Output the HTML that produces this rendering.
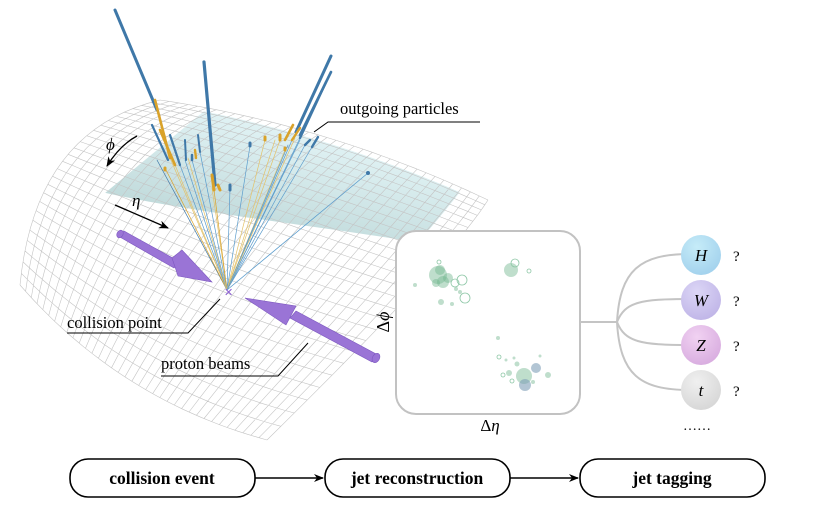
<!DOCTYPE html>
<html><head><meta charset="utf-8">
<style>
html,body{margin:0;padding:0;background:#fff;}
svg{display:block;}
text{font-family:"Liberation Serif",serif;}
</style></head>
<body>
<svg id="s" width="830" height="526" viewBox="0 0 830 526" xmlns="http://www.w3.org/2000/svg">
<defs>
<linearGradient id="tg" x1="0" y1="1" x2="0.6" y2="0">
<stop offset="0" stop-color="#8fb9b9" stop-opacity="0.7"/>
<stop offset="1" stop-color="#d2f0f4" stop-opacity="0.55"/>
</linearGradient>
<radialGradient id="gH" cx="0.4" cy="0.3" r="0.8"><stop offset="0" stop-color="#c6ecf8"/><stop offset="1" stop-color="#9fcfec"/></radialGradient>
<radialGradient id="gW" cx="0.4" cy="0.3" r="0.8"><stop offset="0" stop-color="#dcd6f6"/><stop offset="1" stop-color="#bdb2e6"/></radialGradient>
<radialGradient id="gZ" cx="0.4" cy="0.3" r="0.8"><stop offset="0" stop-color="#f1d2f2"/><stop offset="1" stop-color="#d6a9de"/></radialGradient>
<radialGradient id="gT" cx="0.4" cy="0.3" r="0.8"><stop offset="0" stop-color="#f0f0f0"/><stop offset="1" stop-color="#d4d4d4"/></radialGradient>
<marker id="ar" markerWidth="10" markerHeight="10" refX="9" refY="5" orient="auto" markerUnits="userSpaceOnUse"><path d="M0,1 L10,5 L0,9 L3,5 z" fill="#000"/></marker>
</defs>
<g id="teal"></g>
<g id="mesh" stroke="#c4c4c4" stroke-width="0.6" fill="none"></g>
<g id="parts"></g>

<g fill="#9a74d6" stroke="#7d58c0" stroke-width="0.6">
<path d="M118,236 L124,231 L180,262 L174,268 z"/>
<path d="M172,258 L182,250 L212,282 L178,276 z"/>
<ellipse cx="120" cy="234" rx="3" ry="4" transform="rotate(30 120 234)"/>
<path d="M378,355 L372,362 L290,318 L296,311 z"/>
<path d="M296,306 L286,325 L245,298 z"/>
<ellipse cx="376" cy="358" rx="3.5" ry="5" transform="rotate(30 376 358)"/>
</g>
<text x="224" y="296" font-size="11" fill="#8a5fd0">✕</text>

<path d="M137,136 Q120,145 107,166" stroke="#000" stroke-width="1.3" fill="none" marker-end="url(#ar)"/>
<text x="106" y="150" font-size="17" font-style="italic">ϕ</text>
<path d="M115,205 L168,228" stroke="#000" stroke-width="1.3" fill="none" marker-end="url(#ar)"/>
<text x="132" y="206" font-size="17" font-style="italic">η</text>

<g font-size="16.5">
<text x="340" y="114">outgoing particles</text>
<text x="67" y="328">collision point</text>
<text x="161" y="369">proton beams</text>
</g>
<g stroke="#000" stroke-width="1" fill="none">
<path d="M314,132 L328,122 L480,122"/>
<path d="M67,333 L188,333 L220,299"/>
<path d="M161,376 L278,376 L308,343"/>
</g>

<rect x="396" y="231" width="184" height="183" rx="20" fill="#fff" stroke="#c2c2c2" stroke-width="2"/>
<g id="dots"></g>
<text x="389" y="322" font-size="18" transform="rotate(-90 389 322)" text-anchor="middle">Δ<tspan font-style="italic">ϕ</tspan></text>
<text x="490" y="431" font-size="17" text-anchor="middle">Δ<tspan font-style="italic">η</tspan></text>

<g stroke="#c4c4c4" stroke-width="2" fill="none">
<path d="M580,322 L617,322"/>
<path d="M617,322 C620,270 640,254 690,254"/>
<path d="M617,322 C625,302 640,299 690,299"/>
<path d="M617,322 C625,342 640,345 690,345"/>
<path d="M617,322 C620,375 640,390 690,390"/>
</g>
<circle cx="701" cy="255" r="20" fill="url(#gH)"/>
<circle cx="701" cy="300" r="20" fill="url(#gW)"/>
<circle cx="701" cy="345" r="20" fill="url(#gZ)"/>
<circle cx="701" cy="390" r="20" fill="url(#gT)"/>
<g font-size="17" font-style="italic" text-anchor="middle">
<text x="701" y="261">H</text><text x="701" y="306">W</text><text x="701" y="351">Z</text><text x="701" y="396">t</text>
</g>
<g font-size="15"><text x="733" y="261">?</text><text x="733" y="306">?</text><text x="733" y="351">?</text><text x="733" y="396">?</text></g>
<text x="683" y="430" font-size="14">……</text>

<g stroke="#000" stroke-width="1.6" fill="#fff">
<rect x="70" y="459" width="185" height="38" rx="18"/>
<rect x="325" y="459" width="185" height="38" rx="18"/>
<rect x="580" y="459" width="185" height="38" rx="18"/>
</g>
<g stroke="#000" stroke-width="1.6">
<line x1="255" y1="478" x2="323" y2="478" marker-end="url(#ar)"/>
<line x1="510" y1="478" x2="578" y2="478" marker-end="url(#ar)"/>
</g>
<g font-size="17.5" font-weight="bold" text-anchor="middle">
<text x="162" y="484">collision event</text>
<text x="417" y="484">jet reconstruction</text>
<text x="672" y="484">jet tagging</text>
</g>
</svg>
<script>
(function(){
var NS="http://www.w3.org/2000/svg";
function q(a,c,b,t){var m=1-t;return[m*m*a[0]+2*m*t*c[0]+t*t*b[0],m*m*a[1]+2*m*t*c[1]+t*t*b[1]];}
var A=[160,100],B=[488,200],C=[267,440],D=[20,285];
var cTop=[330,125],cBot=[120,400],cL=[35,130],cR=[450,260];
function P(u,v){
 var t=q(A,cTop,B,u),b=q(D,cBot,C,u),l=q(A,cL,D,v),r=q(B,cR,C,v);
 var x=(1-v)*t[0]+v*b[0]+(1-u)*l[0]+u*r[0]-((1-u)*(1-v)*A[0]+u*(1-v)*B[0]+(1-u)*v*D[0]+u*v*C[0]);
 var y=(1-v)*t[1]+v*b[1]+(1-u)*l[1]+u*r[1]-((1-u)*(1-v)*A[1]+u*(1-v)*B[1]+(1-u)*v*D[1]+u*v*C[1]);
 return x.toFixed(1)+","+y.toFixed(1);}
var mesh=document.getElementById("mesh"),d="";
var NU=36,NV=26,i,j;
for(i=0;i<=NU;i++){d+="M";for(j=0;j<=20;j++)d+=(j?" L":"")+P(i/NU,j/20);}
for(j=0;j<=NV;j++){d+="M";for(i=0;i<=30;i++)d+=(i?" L":"")+P(i/30,j/NV);}
var p=document.createElementNS(NS,"path");p.setAttribute("d",d);mesh.appendChild(p);
var pts=[];
var u0=0.15,u1=0.92;
for(i=0;i<=20;i++)pts.push(P(u0+(u1-u0)*i/20,0.03));
for(j=0;j<=10;j++)pts.push(P(u1,0.03+0.3*j/10));
for(i=20;i>=0;i--)pts.push(P(u0+(u1-u0)*i/20,0.33+0.22*(1-i/20)));
var tp=document.createElementNS(NS,"path");tp.setAttribute("d","M"+pts.join(" L")+"Z");
tp.setAttribute("fill","url(#tg)");document.getElementById("teal").appendChild(tp);
var g=document.getElementById("parts"),O=[227,290];
function line(x1,y1,x2,y2,c,w){var l=document.createElementNS(NS,"line");l.setAttribute("x1",x1);l.setAttribute("y1",y1);l.setAttribute("x2",x2);l.setAttribute("y2",y2);l.setAttribute("stroke",c);l.setAttribute("stroke-width",w);l.setAttribute("stroke-linecap","round");g.appendChild(l);}
var BL="#3f78a8",OR="#d9a22a",LB="#5b9ccc",LO="#e3c26a";
var tips=[
[115,10,157,110,BL,3],[204,62,215,185,BL,3.2],[331,56,296,132,BL,3],[331,72,300,135,BL,2.6],[326,82,300,138,BL,2.4],
[155,100,170,158,OR,2.6],[152,125,168,160,BL,2.2],[160,130,175,165,OR,2.6],[170,135,180,165,BL,2.2],
[185,140,186,160,BL,2],[198,135,200,152,BL,2],[212,175,214,190,OR,3],[230,185,230,190,BL,3],
[250,143,250,146,BL,3],[265,137,265,140,OR,3],[280,135,280,140,OR,3],[293,125,285,140,OR,2.6],
[310,140,305,145,BL,2.4],[318,137,312,147,BL,2.4],[285,148,285,150,OR,3],[165,168,165,170,OR,3],
[192,155,192,160,BL,2.5],[218,185,220,190,OR,3],[300,128,292,140,OR,2.4],[195,150,196,158,OR,2.4]];
var fan=[[157,160,BL],[165,168,OR],[175,165,LO],[185,160,LB],[192,160,LB],[200,152,LB],[212,188,LO],[214,190,OR],[230,188,LB],
[250,146,LB],[265,140,LO],[275,140,LO],[280,140,LO],[285,150,LO],[292,140,LB],[300,140,LB],[305,145,LB],[312,147,LB],
[300,138,LB],[170,158,LO],[180,165,LB],[188,158,LO],[295,138,LO],[288,145,LB]];
fan.forEach(function(f){line(O[0],O[1],f[0],f[1],f[2],0.7);});
line(O[0],O[1],368,173,LB,0.8);
var c=document.createElementNS(NS,"circle");c.setAttribute("cx",368);c.setAttribute("cy",173);c.setAttribute("r",2);c.setAttribute("fill",BL);g.appendChild(c);
tips.forEach(function(t){line(t[0],t[1],t[2],t[3],t[4],t[5]);});
var dg=document.getElementById("dots");
var dots=[[438,275,9,1],[443,282,6,1],[448,278,5,1],[436,283,4,1],[440,270,5,1],[455,283,4,0],[462,280,5,0],[465,298,5,0],[456,289,2,1],[441,302,3,1],[452,304,2,1],[415,285,2,1],[439,262,2,0],[460,292,2,1],
[511,270,7,1],[515,263,4,0],[529,271,2,0],[498,338,2,1],[524,376,8,1],[525,385,6,2],[536,368,5,2],[548,375,3,1],[509,373,3,1],[499,357,2,0],[506,360,1.5,1],[514,358,1.5,1],[517,364,2.5,1],[533,382,2,1],[540,356,1.5,1],[503,375,2,0],[512,381,2,0]];
dots.forEach(function(t){var e=document.createElementNS(NS,"circle");e.setAttribute("cx",t[0]);e.setAttribute("cy",t[1]);e.setAttribute("r",t[2]);
 if(t[3]==0){e.setAttribute("fill","none");e.setAttribute("stroke","#8cc6a5");e.setAttribute("stroke-width","0.8");}
 else if(t[3]==2){e.setAttribute("fill","#7f9fb8");e.setAttribute("fill-opacity","0.6");}
 else{e.setAttribute("fill","#72b58e");e.setAttribute("fill-opacity","0.45");}
 dg.appendChild(e);});
})();
</script>
</body></html>
